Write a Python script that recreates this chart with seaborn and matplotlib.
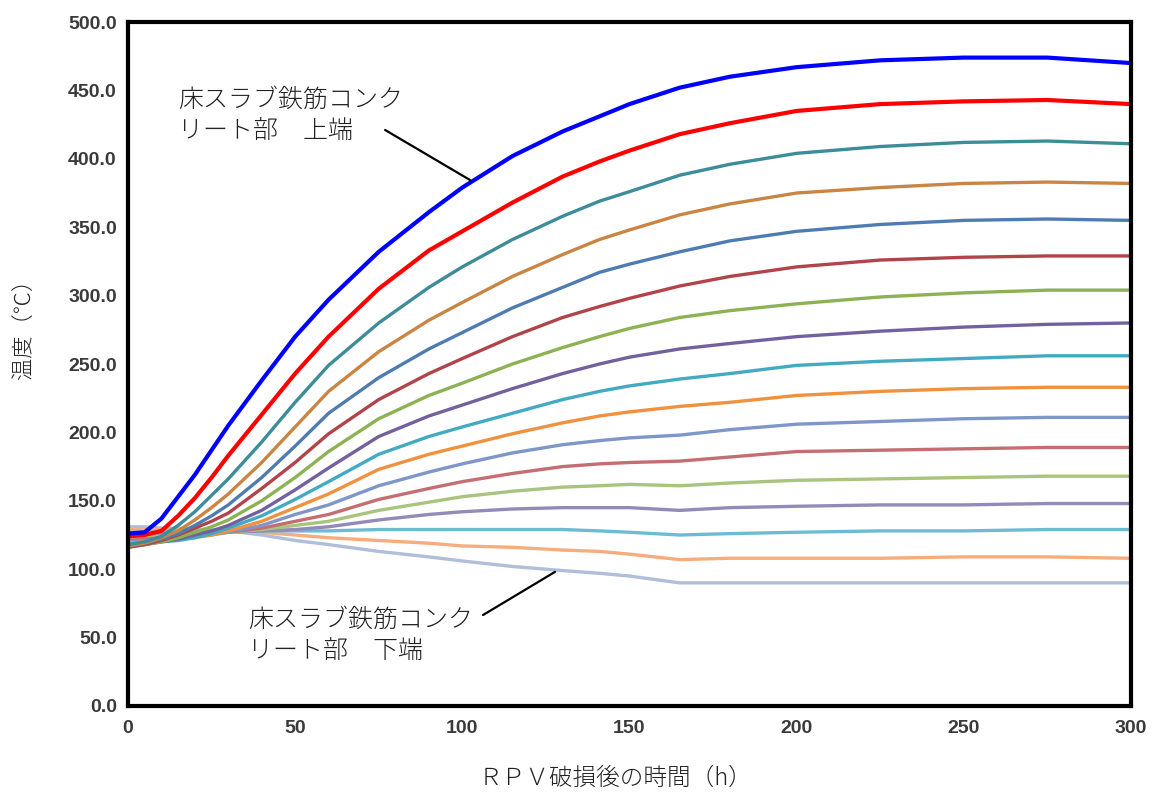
import numpy as np
import pandas as pd
import matplotlib
matplotlib.use("Agg")
import matplotlib.pyplot as plt
import seaborn as sns

# ---- data ----
hours = [0, 5, 10, 15, 20, 25, 30, 40, 50, 60, 75, 90, 100, 115, 130, 141, 150, 165, 180, 200, 225, 250, 275, 300]

s01 = [126, 127, 137, 153, 169, 187, 205, 238, 270, 297, 332, 361, 379, 402, 420, 431, 440, 452, 460, 467, 472, 474, 474, 470]
s02 = [124, 125, 128, 139, 152, 167, 183, 213, 243, 270, 305, 333, 347, 368, 387, 398, 406, 418, 426, 435, 440, 442, 443, 440]
s03 = [118, 120, 124, 132, 142, 154, 166, 193, 222, 249, 280, 306, 321, 341, 358, 369, 376, 388, 396, 404, 409, 412, 413, 411]
s04 = [117, 119, 123, 128, 136, 145, 155, 178, 204, 230, 259, 282, 295, 314, 330, 341, 348, 359, 367, 375, 379, 382, 383, 382]
s05 = [117, 119, 122, 126, 132, 139, 147, 167, 190, 214, 240, 261, 273, 291, 306, 317, 323, 332, 340, 347, 352, 355, 356, 355]
s06 = [116, 118, 121, 125, 130, 135, 141, 159, 178, 199, 224, 243, 254, 270, 284, 292, 298, 307, 314, 321, 326, 328, 329, 329]
s07 = [116, 118, 120, 123, 127, 131, 136, 150, 167, 186, 210, 227, 236, 250, 262, 270, 276, 284, 289, 294, 299, 302, 304, 304]
s08 = [117, 118, 120, 122, 125, 128, 132, 143, 158, 174, 197, 212, 220, 232, 243, 250, 255, 261, 265, 270, 274, 277, 279, 280]
s09 = [118, 119, 120, 121, 123, 126, 130, 139, 151, 164, 184, 197, 204, 214, 224, 230, 234, 239, 243, 249, 252, 254, 256, 256]
s10 = [119, 120, 121, 122, 123, 125, 128, 135, 145, 155, 173, 184, 190, 199, 207, 212, 215, 219, 222, 227, 230, 232, 233, 233]
s11 = [120, 121, 122, 123, 124, 125, 127, 132, 140, 147, 161, 171, 177, 185, 191, 194, 196, 198, 202, 206, 208, 210, 211, 211]
s12 = [121, 122, 123, 124, 125, 126, 127, 130, 135, 140, 151, 159, 164, 170, 175, 177, 178, 179, 182, 186, 187, 188, 189, 189]
s13 = [123, 124, 124, 125, 126, 126, 127, 129, 132, 135, 143, 149, 153, 157, 160, 161, 162, 161, 163, 165, 166, 167, 168, 168]
s14 = [125, 125, 126, 126, 127, 127, 127, 128, 129, 131, 136, 140, 142, 144, 145, 145, 145, 143, 145, 146, 147, 147, 148, 148]
s15 = [127, 127, 127, 128, 128, 128, 128, 128, 128, 128, 129, 129, 129, 129, 129, 128, 127, 125, 126, 127, 128, 128, 129, 129]
s16 = [129, 129, 129, 129, 128, 128, 128, 127, 125, 123, 121, 119, 117, 116, 114, 113, 111, 107, 108, 108, 108, 109, 109, 108]
s17 = [131, 131, 130, 130, 129, 129, 128, 125, 121, 118, 113, 109, 106, 102, 99, 97, 95, 90, 90, 90, 90, 90, 90, 90]

series = [s01, s02, s03, s04, s05, s06, s07, s08, s09, s10, s11, s12, s13, s14, s15, s16, s17]
colors = ["#0000FF", "#FF0000", "#3D8C99", "#C98544", "#4F7CB0", "#B0444A", "#8DB254",
          "#73609E", "#42AAC2", "#F0913F", "#7E96C8", "#C56E72", "#A8C47F", "#928AB8",
          "#6BBCD3", "#F5AD7E", "#B0BEDA"]

yticks = [0, 50, 100, 150, 200, 250, 300, 350, 400, 450, 500]
xticks = [0, 50, 100, 150, 200, 250, 300]

ylabel = "温度（℃）"
xlabel = "ＲＰＶ破損後の時間（h）"
note_top = "床スラブ鉄筋コンク\nリート部　上端"
note_bottom = "床スラブ鉄筋コンク\nリート部　下端"

# ---- plot ----
sns.set_theme(style="white")
plt.rcParams['font.family'] = ['Noto Sans CJK JP', 'DejaVu Sans']

fig = plt.figure(figsize=(11.55, 7.98), dpi=100)
ax = fig.add_axes([0.1108, 0.1153, 0.8684, 0.8571])

for i in reversed(range(len(series))):
    df = pd.DataFrame({"t": hours, "v": series[i]})
    lw = 3.0 if i < 2 else 2.4
    sns.lineplot(data=df, x="t", y="v", color=colors[i], linewidth=lw, ax=ax,
                 estimator=None, legend=False)

ax.set_xlim(0, 300)
ax.set_ylim(0, 500)
ax.set_yticks(yticks)
ax.set_yticklabels([f"{v:.1f}" for v in yticks])
ax.set_xticks(xticks)
ax.set_xticklabels([str(v) for v in xticks])

for sp in ax.spines.values():
    sp.set_visible(True)
    sp.set_color("black")
    sp.set_linewidth(3)

ax.tick_params(axis="y", direction="in", length=6, width=1.2, color="black", pad=8)
ax.tick_params(axis="x", length=0, pad=10)
for lab in ax.get_yticklabels() + ax.get_xticklabels():
    lab.set_family("Liberation Sans")
    lab.set_fontweight("bold")
    lab.set_fontsize(14)
    lab.set_color("#3a3a3a")

ax.set_ylabel(ylabel, fontsize=16, color="#222222", fontweight="light")
ax.yaxis.set_label_coords(-0.092, 0.56)
ax.set_xlabel(xlabel, fontsize=17, color="#222222", fontweight="light")
ax.xaxis.set_label_coords(0.486, -0.088)

txt_kw = dict(ha="left", va="top", fontsize=18, linespacing=1.25, color="#222222",
              fontweight="light")
ax.text(15, 453, note_top, **txt_kw)
ax.text(36, 73, note_bottom, **txt_kw)

line_kw = dict(arrowstyle="-", color="black", lw=1.6, shrinkA=0, shrinkB=0)
ax.annotate("", xy=(102.3, 384.5), xytext=(76.9, 421.1), arrowprops=line_kw)
ax.annotate("", xy=(127.7, 98.0), xytext=(106.2, 66.5), arrowprops=line_kw)

fig.savefig("out.png", dpi=100)
